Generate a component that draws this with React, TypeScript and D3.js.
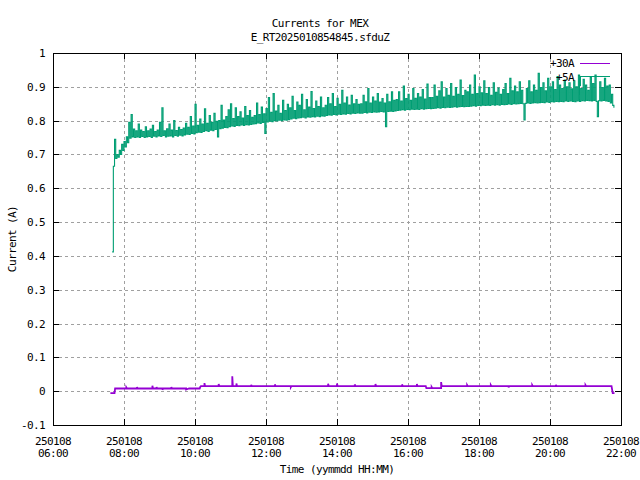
import React from "react";
import * as d3 from "d3";

const TITLE = "Currents for MEX";
const SUBTITLE = "E_RT2025010854845.sfduZ";
const X_LABEL = "Time (yymmdd HH:MM)";
const Y_LABEL = "Current (A)";
const DAY = "2025-01-08";
const X_TICK_DATE = "250108";
const X_TICKS = ["06:00", "08:00", "10:00", "12:00", "14:00", "16:00", "18:00", "20:00", "22:00"];
const Y_TICKS = [-0.1, 0, 0.1, 0.2, 0.3, 0.4, 0.5, 0.6, 0.7, 0.8, 0.9, 1];
const SERIES_NAMES = ["+30A", "+5A"];
const SERIES_COLORS = ["#9400d3", "#009e73"];

// +5A: sampled every 2 minutes starting 07:40 (one row per hour, hh:40 .. hh+1:38)
const GREEN_START = "07:40";
const GREEN_STEP_MIN = 2;
const GREEN_VALUES = [
  0.412, 0.665, 0.745, 0.688, 0.700, 0.692, 0.712, 0.700, 0.730, 0.712, 0.738, 0.722, 0.752, 0.735, 0.795, 0.748, 0.818, 0.752, 0.775, 0.750, 0.770, 0.752, 0.790, 0.750, 0.772, 0.753, 0.768, 0.750, 0.782, 0.752,
  0.770, 0.753, 0.775, 0.750, 0.786, 0.754, 0.768, 0.752, 0.772, 0.755, 0.795, 0.753, 0.838, 0.756, 0.770, 0.752, 0.776, 0.754, 0.790, 0.755, 0.772, 0.752, 0.800, 0.756, 0.771, 0.754, 0.780, 0.757, 0.774, 0.755,
  0.778, 0.758, 0.792, 0.760, 0.780, 0.759, 0.812, 0.762, 0.784, 0.761, 0.848, 0.764, 0.786, 0.766, 0.805, 0.765, 0.790, 0.768, 0.835, 0.770, 0.792, 0.768, 0.815, 0.772, 0.795, 0.770, 0.822, 0.774, 0.798, 0.752,
  0.800, 0.776, 0.845, 0.778, 0.802, 0.780, 0.812, 0.779, 0.832, 0.782, 0.850, 0.784, 0.806, 0.783, 0.838, 0.786, 0.812, 0.785, 0.826, 0.787, 0.808, 0.786, 0.842, 0.788, 0.815, 0.787, 0.830, 0.789, 0.810, 0.790,
  0.815, 0.791, 0.852, 0.793, 0.818, 0.792, 0.840, 0.795, 0.820, 0.762, 0.836, 0.796, 0.868, 0.798, 0.825, 0.797, 0.880, 0.800, 0.828, 0.799, 0.845, 0.801, 0.822, 0.800, 0.860, 0.802, 0.830, 0.801, 0.848, 0.803,
  0.838, 0.805, 0.872, 0.807, 0.830, 0.806, 0.855, 0.808, 0.845, 0.809, 0.878, 0.810, 0.832, 0.808, 0.862, 0.811, 0.840, 0.810, 0.886, 0.812, 0.836, 0.811, 0.858, 0.813, 0.842, 0.812, 0.870, 0.814, 0.838, 0.813,
  0.845, 0.815, 0.868, 0.817, 0.850, 0.816, 0.880, 0.818, 0.842, 0.817, 0.866, 0.819, 0.848, 0.818, 0.890, 0.820, 0.852, 0.819, 0.870, 0.821, 0.846, 0.820, 0.875, 0.822, 0.850, 0.821, 0.862, 0.823, 0.848, 0.822,
  0.850, 0.822, 0.875, 0.824, 0.856, 0.823, 0.895, 0.825, 0.852, 0.824, 0.870, 0.826, 0.858, 0.825, 0.880, 0.826, 0.855, 0.827, 0.865, 0.826, 0.852, 0.782, 0.878, 0.827, 0.856, 0.828, 0.885, 0.827, 0.860, 0.829,
  0.862, 0.830, 0.885, 0.831, 0.858, 0.832, 0.902, 0.831, 0.865, 0.833, 0.878, 0.832, 0.860, 0.834, 0.895, 0.833, 0.866, 0.834, 0.880, 0.833, 0.870, 0.835, 0.892, 0.834, 0.864, 0.835, 0.908, 0.836, 0.868, 0.835,
  0.868, 0.836, 0.905, 0.837, 0.872, 0.838, 0.888, 0.837, 0.915, 0.839, 0.870, 0.838, 0.895, 0.840, 0.875, 0.839, 0.910, 0.840, 0.872, 0.841, 0.898, 0.840, 0.878, 0.841, 0.920, 0.842, 0.874, 0.841, 0.890, 0.842,
  0.885, 0.842, 0.905, 0.843, 0.878, 0.844, 0.935, 0.843, 0.880, 0.845, 0.900, 0.844, 0.882, 0.846, 0.918, 0.845, 0.880, 0.846, 0.898, 0.845, 0.875, 0.847, 0.912, 0.846, 0.884, 0.847, 0.896, 0.846, 0.878, 0.848,
  0.892, 0.847, 0.910, 0.848, 0.880, 0.849, 0.925, 0.848, 0.888, 0.850, 0.902, 0.849, 0.885, 0.850, 0.915, 0.851, 0.890, 0.850, 0.802, 0.851, 0.895, 0.852, 0.918, 0.851, 0.885, 0.852, 0.905, 0.853, 0.890, 0.852,
  0.940, 0.853, 0.898, 0.854, 0.912, 0.853, 0.888, 0.855, 0.925, 0.854, 0.900, 0.856, 0.915, 0.855, 0.892, 0.857, 0.930, 0.856, 0.905, 0.857, 0.895, 0.856, 0.920, 0.858, 0.900, 0.857, 0.912, 0.858, 0.894, 0.857,
  0.918, 0.856, 0.900, 0.858, 0.935, 0.857, 0.895, 0.859, 0.922, 0.858, 0.905, 0.860, 0.890, 0.859, 0.928, 0.858, 0.910, 0.860, 0.935, 0.857, 0.812, 0.859, 0.915, 0.858, 0.898, 0.860, 0.925, 0.858, 0.902, 0.857,
  0.905, 0.852, 0.878, 0.845, 0.838,
];

// +30A: breakpoints
const PURPLE_TIMES = [
  "07:37", "07:44", "07:45", "08:04", "08:04", "08:05", "08:22", "08:22", "08:23", "08:48", "08:48", "08:49",
  "08:55", "08:55", "08:56", "09:05", "09:05", "09:06", "09:20", "09:20", "09:21", "09:45", "09:45", "09:50",
  "10:08", "10:09", "10:10", "10:16", "10:16", "10:17", "10:40", "10:40", "10:41", "11:03", "11:03", "11:04",
  "11:10", "11:10", "11:11", "11:35", "11:35", "11:36", "12:15", "12:15", "12:16", "12:42", "12:42", "12:43",
  "13:45", "13:45", "13:46", "14:00", "14:00", "14:01", "14:30", "14:30", "14:31", "15:05", "15:05", "15:06",
  "15:50", "15:50", "15:51", "16:15", "16:15", "16:16", "16:30", "16:31", "16:40", "16:40", "16:41", "16:56",
  "16:56", "16:57", "17:40", "17:40", "17:41", "18:20", "18:20", "18:21", "18:50", "18:50", "18:51", "19:30",
  "19:30", "19:31", "20:10", "20:10", "20:11", "21:00", "21:00", "21:01", "21:44", "21:46", "21:49",
];
const PURPLE_VALUES = [
  -0.006, -0.006, 0.008, 0.008, 0.011, 0.008, 0.008, 0.012, 0.008, 0.008, 0.016, 0.008,
  0.008, 0.012, 0.008, 0.008, 0.004, 0.008, 0.008, 0.012, 0.008, 0.008, 0.005, 0.008,
  0.008, 0.013, 0.015, 0.015, 0.024, 0.015, 0.015, 0.021, 0.015, 0.015, 0.044, 0.015,
  0.015, 0.023, 0.015, 0.015, 0.019, 0.015, 0.015, 0.020, 0.015, 0.015, 0.012, 0.015,
  0.015, 0.022, 0.015, 0.015, 0.023, 0.015, 0.015, 0.020, 0.015, 0.015, 0.021, 0.015,
  0.015, 0.020, 0.015, 0.015, 0.021, 0.015, 0.015, 0.009, 0.009, 0.012, 0.009, 0.009,
  0.027, 0.015, 0.015, 0.018, 0.015, 0.015, 0.018, 0.015, 0.015, 0.011, 0.015, 0.015,
  0.018, 0.015, 0.015, 0.019, 0.015, 0.015, 0.018, 0.015, 0.015, -0.006, -0.006,
];

const W = 640;
const H = 480;
const M = { left: 53, right: 621, top: 53, bottom: 425 };
const FONT = "'DejaVu Sans Mono', 'Liberation Mono', monospace";

const parse = d3.timeParse("%Y-%m-%d %H:%M");
const t = (hm: string) => parse(`${DAY} ${hm}`) as Date;

export default function App() {
  const x = d3.scaleTime().domain([t(X_TICKS[0]), t(X_TICKS[X_TICKS.length - 1])]).range([M.left, M.right]);
  const y = d3.scaleLinear().domain([Y_TICKS[0], Y_TICKS[Y_TICKS.length - 1]]).range([M.bottom, M.top]);

  const g0 = t(GREEN_START).getTime();
  const green = GREEN_VALUES.map((v, i) => ({ d: new Date(g0 + i * GREEN_STEP_MIN * 60000), v }));
  const purple = PURPLE_TIMES.map((s, i) => ({ d: t(s), v: PURPLE_VALUES[i] }));

  const greenLine = d3.line<{ d: Date; v: number }>().x((p) => x(p.d)).y((p) => y(p.v)).curve(d3.curveStepAfter);
  const purpleLine = d3.line<{ d: Date; v: number }>().x((p) => x(p.d)).y((p) => y(p.v));

  const txt = { fontFamily: FONT, fontSize: 11, letterSpacing: -0.6, fill: "#000" } as const;
  const tick = 6;

  return (
    <svg width={W} height={H} style={{ display: "block", position: "absolute", left: 0, top: 0, background: "#fff" }}>
      <rect x={0} y={0} width={W} height={H} fill="#fff" />
      {/* grid */}
      <g stroke="#a0a0a0" strokeWidth={1} strokeDasharray="3,3" shapeRendering="crispEdges">
        {X_TICKS.slice(1, -1).map((s) => (
          <line key={s} x1={Math.round(x(t(s))) + 0.5} x2={Math.round(x(t(s))) + 0.5} y1={M.top} y2={M.bottom} />
        ))}
        {Y_TICKS.slice(1, -1).map((v) => (
          <line key={v} x1={M.left} x2={M.right} y1={Math.round(y(v)) + 0.5} y2={Math.round(y(v)) + 0.5} />
        ))}
      </g>
      {/* ticks */}
      <g stroke="#000" strokeWidth={1} shapeRendering="crispEdges">
        {X_TICKS.map((s) => {
          const xx = Math.round(x(t(s))) + 0.5;
          return (
            <g key={s}>
              <line x1={xx} x2={xx} y1={M.bottom} y2={M.bottom - tick} />
              <line x1={xx} x2={xx} y1={M.top} y2={M.top + tick} />
            </g>
          );
        })}
        {Y_TICKS.map((v) => {
          const yy = Math.round(y(v)) + 0.5;
          return (
            <g key={v}>
              <line x1={M.left} x2={M.left + tick} y1={yy} y2={yy} />
              <line x1={M.right} x2={M.right - tick} y1={yy} y2={yy} />
            </g>
          );
        })}
      </g>
      {/* data */}
      <path d={purpleLine(purple) || ""} fill="none" stroke={SERIES_COLORS[0]} strokeWidth={1.8} strokeLinejoin="miter" />
      <path d={greenLine(green) || ""} fill="none" stroke={SERIES_COLORS[1]} strokeWidth={1.1} strokeLinejoin="miter" />
      {/* frame */}
      <rect x={M.left + 0.5} y={M.top + 0.5} width={M.right - M.left} height={M.bottom - M.top} fill="none" stroke="#000" shapeRendering="crispEdges" />
      {/* y tick labels */}
      {Y_TICKS.map((v) => (
        <text key={v} x={45} y={y(v) + 4} textAnchor="end" {...txt}>
          {d3.format("~g")(v).replace("−", "-")}
        </text>
      ))}
      {/* x tick labels */}
      {X_TICKS.map((s) => (
        <g key={s}>
          <text x={x(t(s))} y={444.5} textAnchor="middle" {...txt}>{X_TICK_DATE}</text>
          <text x={x(t(s))} y={457} textAnchor="middle" {...txt}>{s}</text>
        </g>
      ))}
      {/* titles */}
      <text x={W / 2} y={26.5} textAnchor="middle" {...txt}>{TITLE}</text>
      <text x={W / 2} y={40.5} textAnchor="middle" {...txt}>{SUBTITLE}</text>
      <text x={(M.left + M.right) / 2} y={473} textAnchor="middle" {...txt}>{X_LABEL}</text>
      <text transform={`translate(15.5,${(M.top + M.bottom) / 2}) rotate(-90)`} textAnchor="middle" {...txt}>{Y_LABEL}</text>
      {/* legend */}
      <text x={574} y={67} textAnchor="end" {...txt}>{SERIES_NAMES[0]}</text>
      <line x1={580} x2={610} y1={63.5} y2={63.5} stroke={SERIES_COLORS[0]} shapeRendering="crispEdges" />
      <text x={574} y={81} textAnchor="end" {...txt}>{SERIES_NAMES[1]}</text>
      <path d="M580.5,86V76.5H610" fill="none" stroke={SERIES_COLORS[1]} shapeRendering="crispEdges" />
    </svg>
  );
}
